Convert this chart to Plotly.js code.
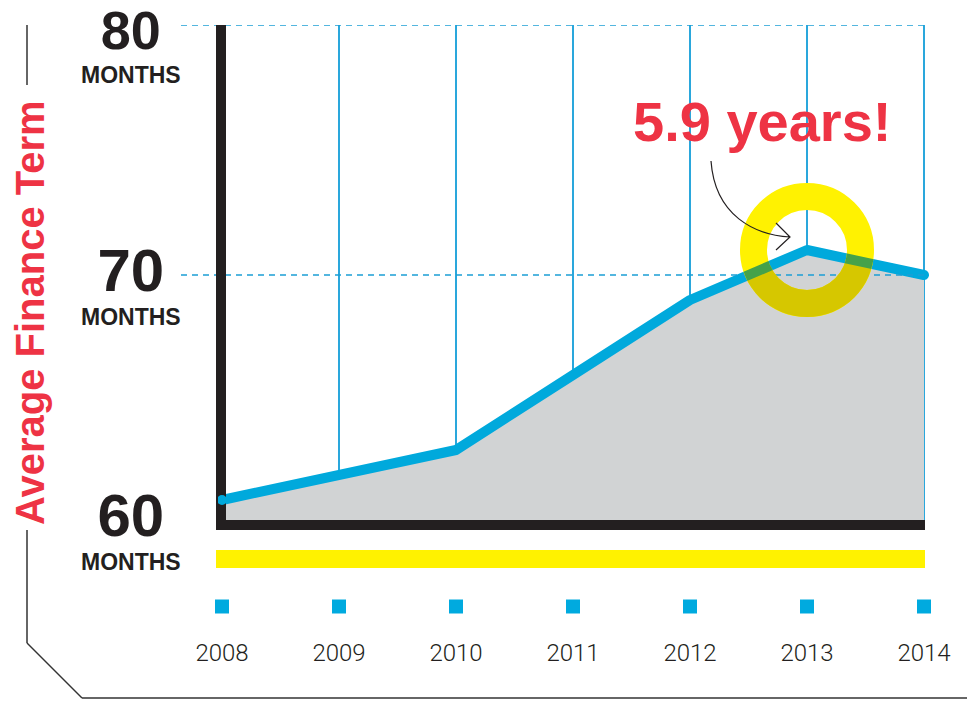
<!DOCTYPE html>
<html><head><meta charset="utf-8">
<script src="https://cdn.plot.ly/plotly-3.0.1.min.js"></script>
<style>html,body{margin:0;padding:0;background:#fff}</style>
</head><body><div id="chart" style="width:967px;height:710px"></div>
<script>
// ---- data ----
const years = [2008, 2009, 2010, 2011, 2012, 2013, 2014];
const yearLabels = ['2008', '2009', '2010', '2011', '2012', '2013', '2014'];
const termMonths = [61, 62, 63, 66, 69, 71, 70];
const yTickVals = [80, 70, 60];
const yTickLabels = ['80', '70', '60'];
const yTickUnit = 'MONTHS';
const yTitle = 'Average Finance Term';
const calloutText = '5.9 years!';
const calloutIndex = 5;

// ---- layout geometry ----
const W = 967, H = 710;
const L = 218, R = 929, T = 25, B = 620;
const xr = [2008 - 4 / 117, 2014 + 5 / 117];
const px = p => (p - L) / (R - L);
const py = p => (B - p) / (B - T);

const CYAN = '#00a9dc', GRID = '#2aa7dc', BLACK = '#231f20', RED = '#ee3344', YEL = '#fff200', RING = '#fff201';

const data = [
  { x: years, y: termMonths, type: 'scatter', mode: 'lines', fill: 'tozeroy',
    fillcolor: '#d1d3d4', line: { color: CYAN, width: 10 }, xaxis: 'x', yaxis: 'y', hoverinfo: 'skip' },
  { x: years, y: years.map(() => 0), type: 'scatter', mode: 'markers', cliponaxis: false,
    marker: { symbol: 'square', size: 14, color: '#00aadf' }, xaxis: 'x2', yaxis: 'y2', hoverinfo: 'skip' }
];

const digitSize = [54, 60, 60];
const labelShift = [-65, -57, -52];
const annotations = [];
yTickVals.forEach((v, i) => {
  annotations.push({ xref: 'paper', yref: 'y', x: px(131), y: v, yshift: labelShift[i],
    text: '<b><span style="font-size:' + digitSize[i] + 'px">' + yTickLabels[i] + '</span><br>' +
      '<span style="font-size:23px">' + yTickUnit + '</span></b>',
    showarrow: false, xanchor: 'center', yanchor: 'bottom', align: 'center',
    font: { family: 'Liberation Sans, Arial, sans-serif', size: 26, color: BLACK } });
});
annotations.push({ xref: 'paper', yref: 'paper', x: px(30), y: py(312), textangle: -90,
  text: '<b>' + yTitle + '</b>', showarrow: false, xanchor: 'center', yanchor: 'middle',
  font: { family: 'Liberation Sans, Arial, sans-serif', size: 40, color: RED } });
annotations.push({ xref: 'paper', yref: 'paper', x: px(762), y: py(122),
  text: '<b>' + calloutText + '</b>', showarrow: false, xanchor: 'center', yanchor: 'middle',
  font: { family: 'Liberation Sans, Arial, sans-serif', size: 56, color: RED } });

const shapes = [];
[80, 70].forEach(v => shapes.push({ type: 'line', xref: 'paper', yref: 'y', x0: px(181), x1: px(925), y0: v, y1: v,
  line: { color: '#1b9fd5', width: 1.3, dash: '6px,5px' }, layer: 'above' }));
shapes.push({ type: 'line', xref: 'paper', yref: 'paper', x0: px(221), x1: px(221), y0: py(25), y1: py(530),
  line: { color: BLACK, width: 10 } });
shapes.push({ type: 'line', xref: 'paper', yref: 'paper', x0: px(216), x1: px(925), y0: py(525), y1: py(525),
  line: { color: BLACK, width: 10 } });
shapes.push({ type: 'circle', xref: 'x', yref: 'y', xsizemode: 'pixel', ysizemode: 'pixel',
  xanchor: years[0], yanchor: termMonths[0], x0: -5, x1: 5, y0: -5, y1: 5,
  fillcolor: CYAN, line: { width: 0 } });
shapes.push({ type: 'rect', xref: 'paper', yref: 'paper', x0: px(216), x1: px(925), y0: py(568), y1: py(550),
  fillcolor: YEL, line: { width: 0 } });
const fr = [[27, 25, 27, 85], [27, 530, 27, 643], [27, 643, 82, 698], [82, 698, 967, 698]];
fr.forEach(s => shapes.push({ type: 'line', xref: 'paper', yref: 'paper', x0: px(s[0]), y0: py(s[1]), x1: px(s[2]), y1: py(s[3]),
  line: { color: '#333333', width: 1.5 } }));
const RO = 67, RI = 40;
shapes.push({ type: 'circle', xref: 'x', yref: 'y', xsizemode: 'pixel', ysizemode: 'pixel',
  xanchor: years[calloutIndex], yanchor: termMonths[calloutIndex],
  x0: -(RO + RI) / 2, x1: (RO + RI) / 2, y0: -(RO + RI) / 2, y1: (RO + RI) / 2,
  line: { color: RING, width: RO - RI }, fillcolor: 'rgba(0,0,0,0)' });
shapes.push({ type: 'path', xref: 'x', yref: 'y', xsizemode: 'pixel', ysizemode: 'pixel',
  xanchor: years[calloutIndex], yanchor: termMonths[calloutIndex],
  path: 'M-96,89 C-92,34 -52,15 -17,13 M-31,27 L-17,13 L-31,0',
  line: { color: BLACK, width: 1.2 } });

const layout = {
  width: W, height: H, margin: { l: L, r: W - R, t: T, b: H - B, pad: 0 },
  paper_bgcolor: '#fff', plot_bgcolor: 'rgba(0,0,0,0)', showlegend: false,
  xaxis: { range: xr, anchor: 'y', domain: [0, 1], tickvals: years, showticklabels: false, ticks: '',
    showgrid: true, gridcolor: GRID, gridwidth: 1.3, zeroline: false, showline: false },
  yaxis: { range: [60, 80], domain: [(B - 525) / (B - T), 1], anchor: 'x', showgrid: false,
    showticklabels: false, zeroline: false, showline: false, ticks: '' },
  xaxis2: { range: xr, anchor: 'y2', domain: [0, 1], tickvals: years, ticktext: yearLabels, ticks: '',
    showgrid: false, zeroline: false, showline: false, ticklabelstandoff: 16,
    tickfont: { family: 'Roboto, Liberation Sans, Arial, sans-serif', size: 24, weight: 300, color: BLACK } },
  yaxis2: { range: [-1, 1], domain: [0, 27 / (B - T)], anchor: 'x2', visible: false },
  annotations: annotations, shapes: shapes
};

// translucent-ink look: where the yellow ring crosses the grey area and the blue line,
// repaint those parts of the ring in the mixed colours
function ringOverlay() {
  const gd = document.getElementById('chart');
  const fl = gd._fullLayout, xa = fl.xaxis, ya = fl.yaxis;
  const NS = 'http://www.w3.org/2000/svg';
  const tr = gd.querySelector('.scatterlayer .trace');
  const fill = tr.querySelector('.js-fill'), line = tr.querySelector('.js-line');
  if (line) { line.style.strokeLinecap = 'round'; line.style.strokeLinejoin = 'round'; }
  const ring = Array.from(gd.querySelectorAll('path')).find(p => /255,\s*242,\s*1/.test(p.getAttribute('style') || ''));
  if (!ring || !fill || !line) return;
  const cx = xa.d2p(years[calloutIndex]), cy = ya.d2p(termMonths[calloutIndex]);
  const circ = r => 'M' + (cx - r) + ',' + cy + ' a' + r + ',' + r + ' 0 1,0 ' + (2 * r) + ',0 a' + r + ',' + r + ' 0 1,0 ' + (-2 * r) + ',0 Z ';
  const svg = gd.querySelector('.main-svg');
  const defs = svg.querySelector('defs');
  const cp = document.createElementNS(NS, 'clipPath');
  cp.setAttribute('id', 'ringclip');
  const cpath = document.createElementNS(NS, 'path');
  cpath.setAttribute('d', circ(RO) + circ(RI));
  cpath.setAttribute('clip-rule', 'evenodd');
  cp.appendChild(cpath);
  defs.appendChild(cp);
  const g = document.createElementNS(NS, 'g');
  g.setAttribute('transform', 'translate(' + xa._offset + ',' + ya._offset + ')');
  g.setAttribute('clip-path', 'url(#ringclip)');
  const f2 = fill.cloneNode(false);
  f2.style.fill = '#d6c700'; f2.style.fillOpacity = 1; f2.style.stroke = 'none';
  const l2 = line.cloneNode(false);
  l2.style.stroke = '#45a24a'; l2.style.fill = 'none';
  g.appendChild(f2); g.appendChild(l2);
  ring.parentNode.insertBefore(g, ring.nextSibling);
}
Plotly.newPlot('chart', data, layout, { staticPlot: true }).then(ringOverlay);
</script></body></html>
